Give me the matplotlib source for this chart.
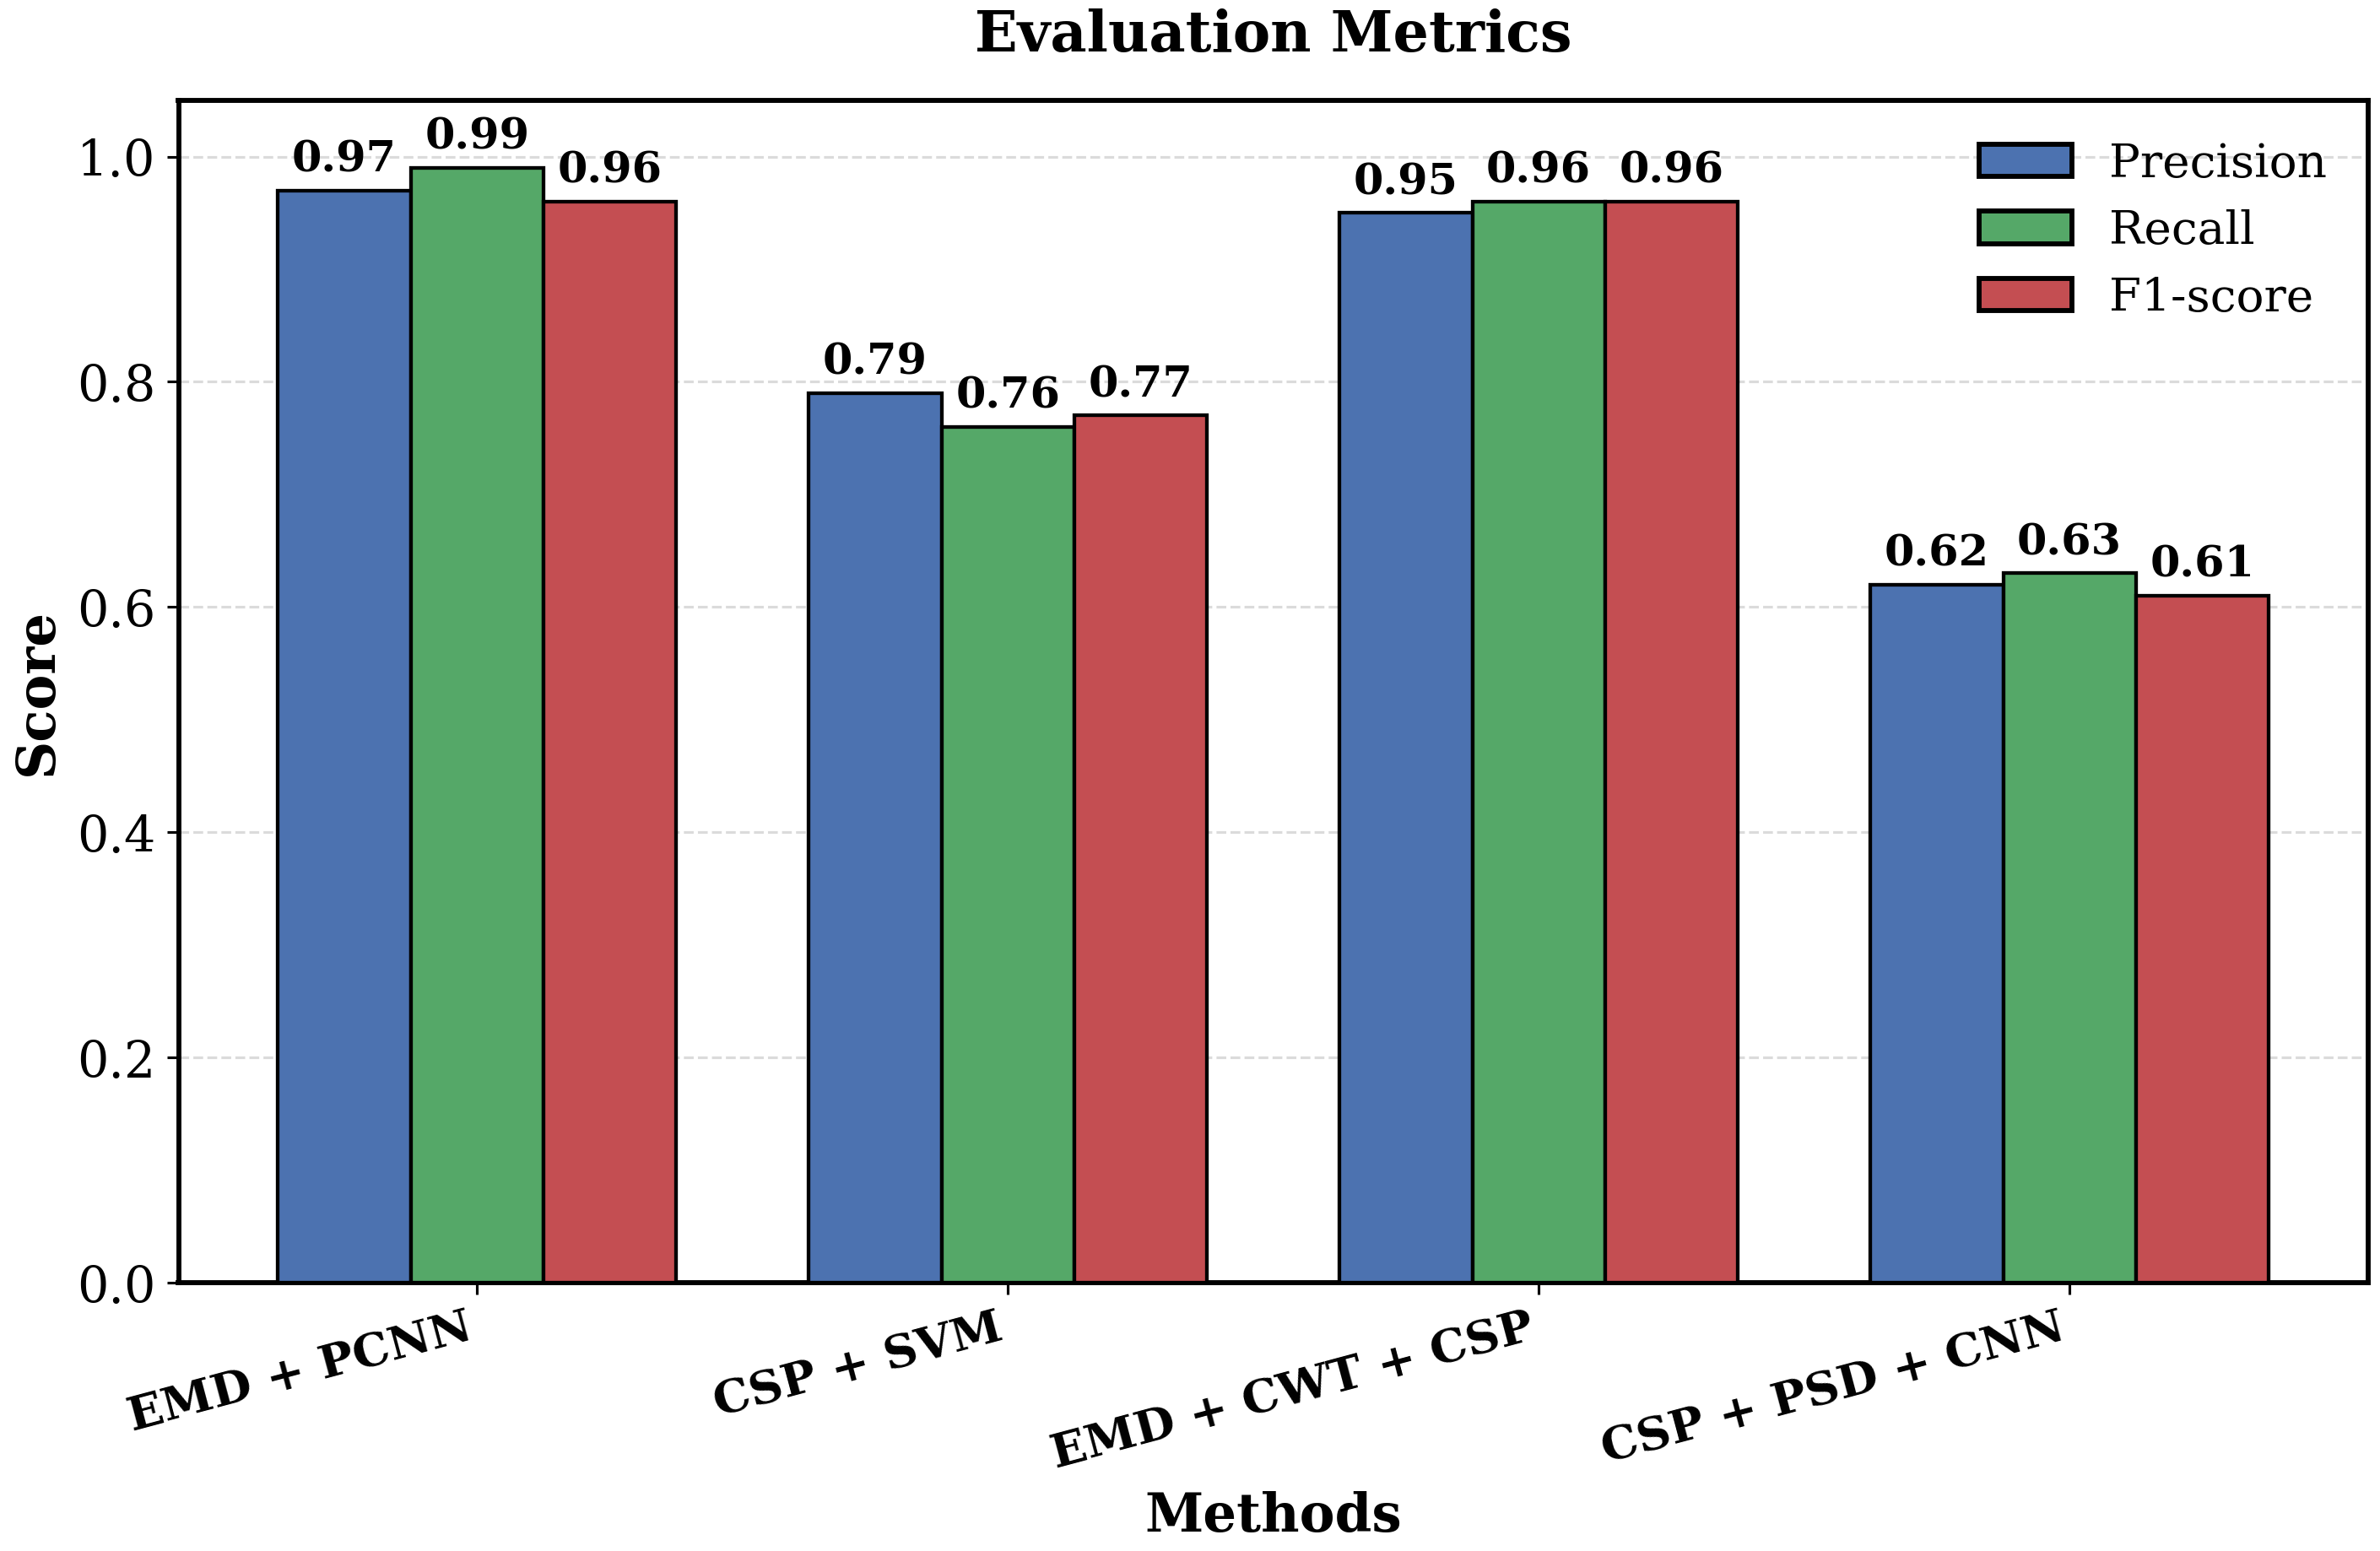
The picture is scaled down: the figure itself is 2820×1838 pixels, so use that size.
import numpy as np
import matplotlib
import matplotlib.pyplot as plt

matplotlib.use('Agg')

methods = ['EMD + PCNN', 'CSP + SVM', 'EMD + CWT + CSP', 'CSP + PSD + CNN']
precision = [0.97, 0.79, 0.95, 0.62]
recall = [0.99, 0.76, 0.96, 0.63]
f1_score = [0.96, 0.77, 0.96, 0.61]

series_names = ['Precision', 'Recall', 'F1-score']
colors = ['#4C72B0', '#55A868', '#C44E52']

plt.rcParams['font.family'] = 'DejaVu Serif'


def plot_metrics():
    fig, ax = plt.subplots(figsize=(10.0, 6.52), dpi=282)
    fig.subplots_adjust(left=0.075, right=0.995, top=0.935, bottom=0.173)

    x = np.arange(len(methods))
    width = 0.25
    values = [precision, recall, f1_score]

    for i, (name, vals) in enumerate(zip(series_names, values)):
        bars = ax.bar(x + (i - 1) * width, vals, width, label=name,
                      color=colors[i], edgecolor='black', linewidth=1.1, zorder=3)
        ax.bar_label(bars, labels=[f'{v:.2f}' for v in vals], padding=3,
                     fontsize=13, fontweight='bold')

    ax.set_ylim(0, 1.05)
    ax.set_xticks(x)
    ax.set_xticklabels(methods, rotation=15, ha='right', fontsize=14, fontweight='bold')
    ax.tick_params(axis='y', labelsize=15)
    ax.set_xlabel('Methods', fontsize=16, fontweight='bold')
    ax.set_ylabel('Score', fontsize=16, fontweight='bold')
    ax.set_title('Evaluation Metrics', fontsize=17, fontweight='bold', pad=15)

    ax.yaxis.grid(True, linestyle='--', color='#cccccc', alpha=0.7, linewidth=0.8, zorder=0)
    ax.set_axisbelow(True)
    for spine in ax.spines.values():
        spine.set_linewidth(1.5)

    leg = ax.legend(fontsize=14, frameon=False, loc='upper right')
    for patch in leg.get_patches():
        patch.set_linewidth(1.5)

    fig.savefig('out.png', dpi=282)


if __name__ == '__main__':
    plot_metrics()
